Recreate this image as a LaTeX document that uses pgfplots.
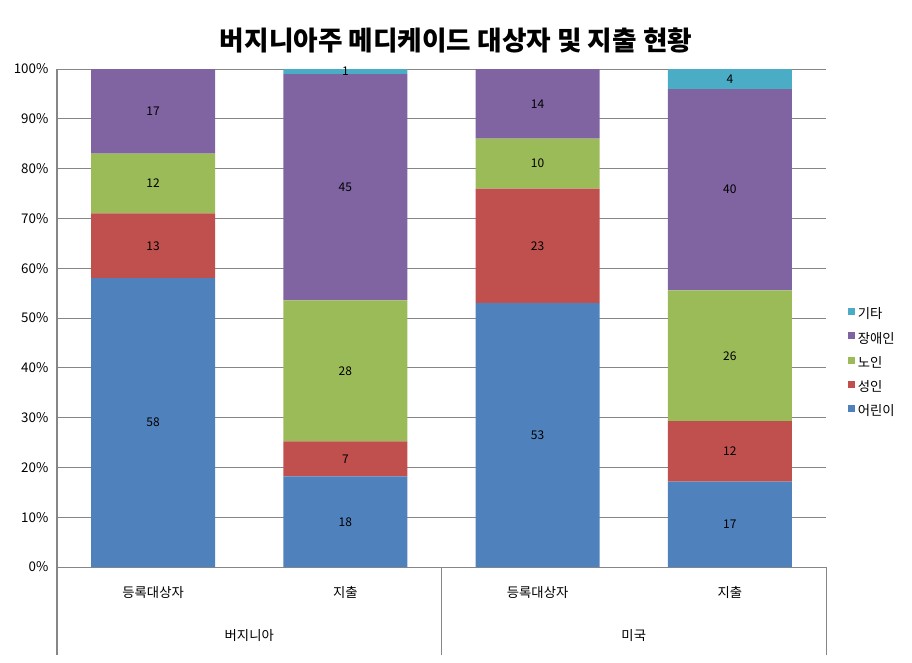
\documentclass[border=0pt]{standalone}
\usepackage{pgfplots}
\pgfplotsset{compat=1.18}
\usepackage{pgfplotstable}
\usepackage{fontspec}
\setmainfont{Noto Sans CJK KR}

\definecolor{cBlue}{HTML}{4F81BD}
\definecolor{cRed}{HTML}{C0504D}
\definecolor{cGreen}{HTML}{9BBB59}
\definecolor{cPurple}{HTML}{8064A2}
\definecolor{cCyan}{HTML}{4BACC6}
\definecolor{axisgray}{HTML}{868686}

% shares scaled to 100 (the spending columns add up to 99)
\pgfplotstableread{
x  child  adult  old    disab  other
0  58     13     12     17     0
1  18.18  7.07   28.28  45.45  1.01
2  53     23     10     14     0
3  17.17  12.12  26.26  40.40  4.04
}\shares

% segment centres and the figures printed in them
\pgfplotstableread{
x  y      lab
0  29     58
0  64.5   13
0  77     12
0  91.5   17
1  9.09   18
1  21.72  7
1  39.39  28
1  76.26  45
1  99.49  1
2  26.5   53
2  64.5   23
2  81     10
2  93     14
3  8.59   17
3  23.23  12
3  42.42  26
3  75.76  40
3  97.98  4
}\labels

\begin{document}
\begin{tikzpicture}[font=\fontsize{10}{12}\selectfont]
\useasboundingbox (-42.75pt,-71.25pt) rectangle (641.25pt,425.25pt);
\pgfplotsset{
  base/.style={
    width=576.75pt, height=373.5pt, scale only axis,
    xmin=-0.5, xmax=3.5, ymin=0, ymax=100,
    enlarge x limits=false, enlarge y limits=false, clip=false,
  },
}
\begin{axis}[base,
  ybar stacked, bar width=0.645,
  axis x line*=bottom, axis y line*=left,
  axis line style={draw=axisgray, line width=0.75pt},
  ymajorgrids, grid style={draw=axisgray, line width=0.75pt},
  ytick={0,10,...,100},
  yticklabel={\pgfmathprintnumber{\tick}\%},
  /pgf/number format/assume math mode=true,
  yticklabel style={font=\fontsize{10}{12}\selectfont, xshift=-3pt},
  major y tick style={draw=none},
  xtick={0,1,2,3},
  xticklabels={등록대상자,지출,등록대상자,지출},
  xticklabel style={anchor=center, yshift=-18.75pt},
  major x tick style={draw=none},
  extra x ticks={-0.5,1.5,3.5},
  extra x tick labels={},
  extra x tick style={major x tick style={draw=axisgray, line width=0.75pt},
    major tick length=66pt, tick align=outside},
  legend style={at={(1,0.41)}, anchor=west, xshift=13.5pt, draw=none, fill=none,
    font=\fontsize{10}{12}\selectfont, row sep=4.4pt},
  legend cell align=left,
  reverse legend,
  legend image code/.code={\fill[#1, draw=none] (0pt,-0.6pt) rectangle (5.2pt,4.6pt);},
]
\addplot[fill=cBlue, draw=none] table[x=x, y=child] {\shares};
\addlegendentry{어린이}
\addplot[fill=cRed, draw=none] table[x=x, y=adult] {\shares};
\addlegendentry{성인}
\addplot[fill=cGreen, draw=none] table[x=x, y=old] {\shares};
\addlegendentry{노인}
\addplot[fill=cPurple, draw=none] table[x=x, y=disab] {\shares};
\addlegendentry{장애인}
\addplot[fill=cCyan, draw=none] table[x=x, y=other] {\shares};
\addlegendentry{기타}
\node at (axis cs:0.5,0) [yshift=-51pt] {버지니아};
\node at (axis cs:2.5,0) [yshift=-51pt] {미국};
\end{axis}
\begin{axis}[base, hide axis]
\addplot[only marks, mark=*, mark size=0pt, mark options={draw=none, fill=none},
  nodes near coords, point meta=explicit symbolic,
  every node near coord/.append style={anchor=center, font=\fontsize{9}{11}\selectfont, text=black}]
  table[x=x, y=y, meta=lab] {\labels};
\end{axis}
\node[font=\bfseries\fontsize{20}{24}\selectfont] at (299.25pt,395.25pt)
  {버지니아주 메디케이드 대상자 및 지출 현황};
\end{tikzpicture}
\end{document}
